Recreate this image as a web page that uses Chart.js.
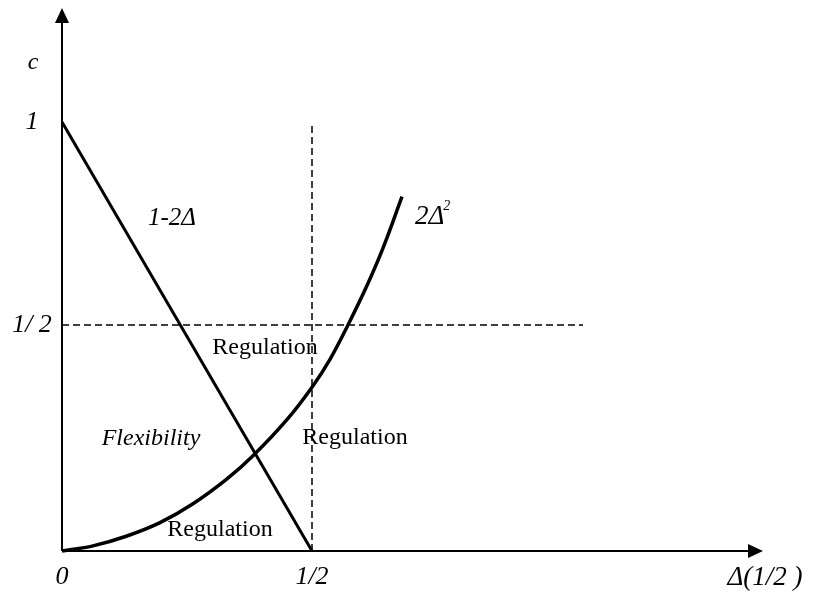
<!DOCTYPE html>
<html>
<head>
<meta charset="utf-8">
<script src="https://cdn.jsdelivr.net/npm/chart.js@4.4.0/dist/chart.umd.min.js"></script>
<style>
  html, body { margin: 0; padding: 0; background: #fff; }
  #wrap { width: 813px; height: 599px; }
</style>
</head>
<body>
<div id="wrap"><canvas id="chart"></canvas></div>
<script>
// the 2Δ² curve as it is drawn (x = Δ, y = c)
var curveX = [0, 0.062, 0.13, 0.196, 0.262, 0.33, 0.382, 0.449, 0.5, 0.536, 0.572, 0.61, 0.642, 0.68];
var curveY = [0, 0.012, 0.035, 0.066, 0.110, 0.168, 0.222, 0.305, 0.382, 0.447, 0.527, 0.619, 0.706, 0.826];

// the 1-2Δ line
var lineX = [0, 0.5];
var lineY = [1, 0];

// dashed guides
var halfC = 0.527;       // where the "1/2" guide sits
var guideEndX = 1.042;   // right end of the horizontal guide
var guideX = 0.5;        // vertical guide at Δ = 1/2
var guideTopY = 1.0;

// tick labels
var xTicks = [0, 0.5];
var xTickLabels = ['0', '1/2'];
var yTicks = [1, halfC];
var yTickLabels = ['1', '1/ 2'];

var serif = '"Liberation Serif", "Times New Roman", serif';

function pts(xs, ys) {
  var out = [];
  for (var i = 0; i < xs.length; i += 1) {
    out.push({ x: xs[i], y: ys[i] });
  }
  return out;
}

// text placed in the plot (data coordinates)
var notes = [
  { text: 'c', x: -0.058, y: 1.138, font: 'italic 24px ' + serif },
  { text: '1-2Δ', x: 0.22, y: 0.776, font: 'italic 25px ' + serif },
  { text: 'Regulation', x: 0.406, y: 0.473, font: '24px ' + serif },
  { text: 'Flexibility', x: 0.178, y: 0.263, font: 'italic 24px ' + serif },
  { text: 'Regulation', x: 0.586, y: 0.263, font: '24px ' + serif },
  { text: 'Regulation', x: 0.316, y: 0.049, font: '24px ' + serif },
  { text: 'Δ(1/2 )', x: 1.406, y: -0.063, font: 'italic 27px ' + serif }
];

var axesPlugin = {
  id: 'axesPlugin',
  beforeDatasetsDraw: function(chart) {
    var ctx = chart.ctx;
    var a = chart.chartArea;
    var x0 = chart.scales.x.getPixelForValue(0);
    var y0 = chart.scales.y.getPixelForValue(0);
    ctx.save();
    ctx.strokeStyle = '#000';
    ctx.fillStyle = '#000';
    ctx.lineWidth = 2;
    // y axis
    ctx.beginPath();
    ctx.moveTo(x0, y0);
    ctx.lineTo(x0, a.top + 14);
    ctx.stroke();
    ctx.beginPath();
    ctx.moveTo(x0, a.top);
    ctx.lineTo(x0 - 7, a.top + 15);
    ctx.lineTo(x0 + 7, a.top + 15);
    ctx.closePath();
    ctx.fill();
    // x axis
    ctx.beginPath();
    ctx.moveTo(x0, y0);
    ctx.lineTo(a.right - 14, y0);
    ctx.stroke();
    ctx.beginPath();
    ctx.moveTo(a.right, y0);
    ctx.lineTo(a.right - 15, y0 - 7);
    ctx.lineTo(a.right - 15, y0 + 7);
    ctx.closePath();
    ctx.fill();
    ctx.restore();
  },
  afterDatasetsDraw: function(chart) {
    var ctx = chart.ctx;
    var sx = chart.scales.x;
    var sy = chart.scales.y;
    ctx.save();
    ctx.fillStyle = '#000';
    ctx.textAlign = 'center';
    ctx.textBaseline = 'middle';
    // tick labels
    ctx.font = 'italic 26px ' + serif;
    for (var i = 0; i < xTicks.length; i += 1) {
      ctx.fillText(xTickLabels[i], sx.getPixelForValue(xTicks[i]), sy.getPixelForValue(0) + 26);
    }
    for (var j = 0; j < yTicks.length; j += 1) {
      ctx.fillText(yTickLabels[j], sx.getPixelForValue(0) - 30, sy.getPixelForValue(yTicks[j]));
    }
    // notes
    notes.forEach(function(n) {
      ctx.font = n.font;
      ctx.fillText(n.text, sx.getPixelForValue(n.x), sy.getPixelForValue(n.y));
    });
    // 2Δ² with a raised 2
    var lx = sx.getPixelForValue(0.706);
    var ly = sy.getPixelForValue(0.779);
    ctx.textAlign = 'left';
    ctx.font = 'italic 27px ' + serif;
    ctx.fillText('2Δ', lx, ly);
    var w = ctx.measureText('2Δ').width;
    ctx.font = 'italic 14px ' + serif;
    ctx.fillText('2', lx + w - 1, ly - 11);
    ctx.restore();
  }
};

var ctx = document.getElementById('chart').getContext('2d');
var chart = new Chart(ctx, {
  type: 'scatter',
  data: {
    datasets: [{
      data: pts(curveX, curveY),
      showLine: true,
      borderColor: '#000',
      borderWidth: 3.5,
      pointRadius: 0,
      tension: 0.4,
      clip: false
    }, {
      data: pts(lineX, lineY),
      showLine: true,
      borderColor: '#000',
      borderWidth: 3,
      pointRadius: 0,
      clip: false
    }, {
      data: pts([0, guideEndX], [halfC, halfC]),
      showLine: true,
      borderColor: '#000',
      borderWidth: 1.5,
      borderDash: [7, 4],
      pointRadius: 0
    }, {
      data: pts([guideX, guideX], [0, guideTopY]),
      showLine: true,
      borderColor: '#000',
      borderWidth: 1.5,
      borderDash: [7, 4],
      pointRadius: 0
    }]
  },
  options: {
    responsive: true,
    maintainAspectRatio: false,
    animation: false,
    layout: {
      padding: { left: 62, right: 50, top: 8, bottom: 48 }
    },
    scales: {
      x: { type: 'linear', min: 0, max: 1.402, display: false },
      y: { type: 'linear', min: 0, max: 1.266, display: false }
    },
    plugins: {
      legend: { display: false },
      tooltip: { enabled: false }
    }
  },
  plugins: [axesPlugin]
});
</script>
</body>
</html>
